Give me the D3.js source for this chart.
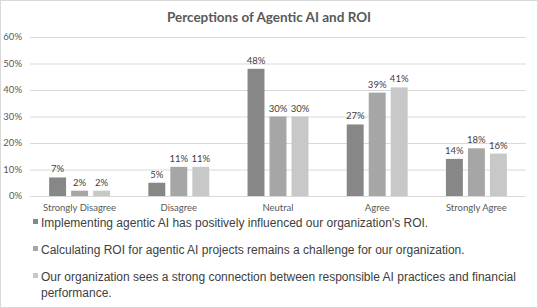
<!DOCTYPE html>
<html lang="en">
<head>
<meta charset="utf-8">
<title>Perceptions of Agentic AI and ROI</title>
<script src="https://d3js.org/d3.v7.min.js"></script>
<style>
  body { margin: 0; background: #fff; }
  .title { font: bold 13.5px Lato, "Open Sans", sans-serif; fill: #595959; }
  .axis text { font: 9.5px Lato, "Open Sans", sans-serif; fill: #595959; }
  .lbl { font: 9.5px Lato, "Open Sans", sans-serif; fill: #404040; }
  .legend text { font: 12px "Liberation Sans", Arial, sans-serif; fill: #404040; }
</style>
</head>
<body>
<div id="chart"></div>
<script>
// data
var categories = ["Strongly Disagree", "Disagree", "Neutral", "Agree", "Strongly Agree"];
var seriesNames = [
  "Implementing agentic AI has positively influenced our organization's ROI.",
  "Calculating ROI for agentic AI projects remains a challenge for our organization.",
  "Our organization sees a strong connection between responsible AI practices and financial performance."
];
var influenced = [7, 5, 48, 27, 14];
var challenge  = [2, 11, 30, 39, 18];
var connection = [2, 11, 30, 41, 16];
var yTicks = [0, 10, 20, 30, 40, 50, 60];
var colors = ["#878787", "#a6a6a6", "#c8c8c8"];

var W = 538, H = 308;
var margin = { top: 37, right: 12, bottom: 112, left: 30 };
var width = W - margin.left - margin.right,
    height = H - margin.top - margin.bottom;

var svg = d3.select("#chart").append("svg")
    .attr("width", W).attr("height", H);

// outer frame
svg.append("rect")
    .attr("x", 0.5).attr("y", 0.5)
    .attr("width", W - 1).attr("height", H - 1)
    .attr("fill", "#fff").attr("stroke", "#d9d9d9");

svg.append("text").attr("class", "title")
    .attr("x", W / 2).attr("y", 22)
    .attr("text-anchor", "middle")
    .text("Perceptions of Agentic AI and ROI");

var g = svg.append("g").attr("transform", "translate(" + margin.left + "," + margin.top + ")");

var x0 = d3.scaleBand().domain(categories).range([0, width]);
var x1 = d3.scaleBand().domain(d3.range(3)).range([0, x0.bandwidth()])
    .paddingInner(0.23).paddingOuter(0.87);
var y = d3.scaleLinear().domain([0, 60]).range([height, 0]);

// gridlines
g.append("g")
    .call(d3.axisLeft(y).tickValues(yTicks).tickSize(-width).tickFormat(""))
    .call(s => s.select(".domain").remove())
    .selectAll("line").attr("stroke", "#d9d9d9");

// y labels
g.append("g").attr("class", "axis")
    .selectAll("text").data(yTicks).enter().append("text")
    .attr("x", -8).attr("y", d => y(d)).attr("dy", "0.35em")
    .attr("text-anchor", "end")
    .text(d => d + "%");

// x labels
g.append("g").attr("class", "axis")
    .selectAll("text").data(categories).enter().append("text")
    .attr("x", d => x0(d) + x0.bandwidth() / 2)
    .attr("y", height + 15)
    .attr("text-anchor", "middle")
    .text(d => d);

var rows = categories.map((c, i) => ({ cat: c, vals: [influenced[i], challenge[i], connection[i]] }));

var groups = g.selectAll(".grp").data(rows).enter().append("g")
    .attr("class", "grp")
    .attr("transform", d => "translate(" + x0(d.cat) + ",0)");

groups.selectAll("rect").data(d => d.vals).enter().append("rect")
    .attr("x", (d, i) => x1(i))
    .attr("y", d => y(d))
    .attr("width", x1.bandwidth())
    .attr("height", d => height - y(d))
    .attr("fill", (d, i) => colors[i]);

groups.selectAll(".lbl").data(d => d.vals).enter().append("text")
    .attr("class", "lbl")
    .attr("x", (d, i) => x1(i) + x1.bandwidth() / 2)
    .attr("y", d => y(d) - 5)
    .attr("text-anchor", "middle")
    .text(d => d + "%");

// legend
var legend = svg.append("g").attr("class", "legend");
var ly = 227;
seriesNames.forEach(function (name, i) {
  legend.append("rect")
      .attr("x", 33).attr("y", ly - 8)
      .attr("width", 5).attr("height", 5)
      .attr("fill", colors[i]);
  var t = legend.append("text").attr("x", 41).attr("y", ly);
  var words = name.split(" "), line = [], tspan = t.append("tspan").attr("x", 41).attr("y", ly);
  var lines = 1;
  words.forEach(function (w) {
    line.push(w);
    tspan.text(line.join(" "));
    if (tspan.node().getComputedTextLength() > 485 && line.length > 1) {
      line.pop();
      tspan.text(line.join(" "));
      line = [w];
      tspan = t.append("tspan").attr("x", 41).attr("y", ly + lines * 16).text(w);
      lines++;
    }
  });
  ly += 27;
});
</script>
</body>
</html>
